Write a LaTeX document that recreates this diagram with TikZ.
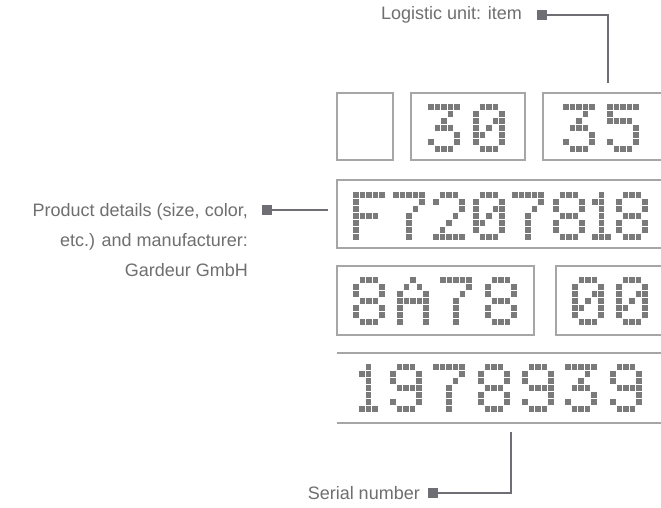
\documentclass[tikz,border=0pt]{standalone}
\usepackage{fontspec}
\setmainfont{Liberation Sans}
\definecolor{framegray}{HTML}{A6A6A6}
\definecolor{dotgray}{HTML}{7A7A7A}
\definecolor{leadgray}{HTML}{6E6E74}
\definecolor{labelgray}{HTML}{6F6F6F}

% dot-matrix geometry
\newcommand\pdx{6.6}
\newcommand\pdy{7.0}
\newcommand\pdw{5.6}
\newcommand\pdh{5.8}

% 5x7 glyphs: one list of lit columns per row, top to bottom
\def\gZero{{1,2,3},{0,4},{0,3,4},{0,2,4},{0,1,4},{0,4},{1,2,3}}
\def\gOne{{1},{0,1},{1},{1},{1},{1},{0,1,2}}
\def\gTwo{{1,2,3},{0,4},{4},{3},{2},{1},{0,1,2,3,4}}
\def\gThree{{0,1,2,3,4},{3},{2},{1,2,3},{4},{0,4},{1,2,3}}
\def\gFive{{0,1,2,3,4},{0},{0,1,2,3},{4},{4},{0,4},{1,2,3}}
\def\gSeven{{0,1,2,3,4},{4},{3},{2},{2},{2},{2}}
\def\gEight{{1,2,3},{0,4},{0,4},{1,2,3},{0,4},{0,4},{1,2,3}}
\def\gNine{{1,2,3},{0,4},{0,4},{1,2,3,4},{4},{0,4},{1,2,3}}
\def\gA{{2},{1,3},{0,4},{0,1,2,3,4},{0,4},{0,4},{0,4}}
\def\gF{{0,1,2,3,4},{0},{0},{0,1,2,3},{0},{0},{0}}

% \dmtext{top}{x/glyph, x/glyph, ...}
\newcommand\dmtext[2]{%
  \foreach \gx/\gl in {#2} {%
    \edef\curglyph{\gl}%
    \foreach \rw [count=\ri from 0] in \curglyph {%
      \foreach \cl in \rw {%
        \fill[dotgray] ({\gx+\cl*\pdx},{#1+\ri*\pdy}) rectangle ++(\pdw,\pdh);
      }%
    }%
  }%
}

\tikzset{
  frame/.style={draw=framegray, line width=2.6},
  leader/.style={draw=leadgray, line width=2},
  marker/.style={fill=leadgray, inner sep=0pt, minimum size=10, draw=none},
  label/.style={text=labelgray, inner sep=0pt, font=\fontsize{18}{30}\selectfont},
}

\begin{document}
\begin{tikzpicture}[x=1pt, y=-1pt]
\useasboundingbox (0,0) rectangle (661,508);
\fill[white] (0,0) rectangle (661,508);

% field frames
\begin{scope}
\clip (0,0) rectangle (661,508);
\draw[frame] (337,93) rectangle (393,160);
\draw[frame] (411,93) rectangle (525,160);
\draw[frame] (543,93) rectangle (700,160);
\draw[frame] (337,180) rectangle (700,248);
\draw[frame] (337,266) rectangle (534,335);
\draw[frame] (556,266) rectangle (700,335);
\draw[frame] (337,353) -- (700,353);
\draw[frame] (337,423) -- (700,423);
\end{scope}

% dot-matrix contents
\dmtext{104}{428/\gThree, 473/\gZero}
\dmtext{104}{563/\gThree, 607/\gFive}
\dmtext{192}{353/\gF, 393/\gSeven, 433/\gTwo, 473/\gZero, 512/\gSeven, 553/\gEight, 592/\gOne, 616/\gEight}
\dmtext{277}{353/\gEight, 397/\gA, 440/\gSeven, 485/\gEight}
\dmtext{277}{572/\gZero, 616/\gZero}
\dmtext{364}{359/\gOne, 390/\gNine, 433/\gSeven, 478/\gEight, 522/\gNine, 565/\gThree, 610/\gNine}

% labels with leader lines
\node[marker] (mLog) at (542,15) {};
\node[label, anchor=east] (tLog) at (522,15) {Logistic unit: item};
\coordinate (eLog) at (608,83);
\draw[leader] (mLog.east) -| (eLog);

\node[marker] (mProd) at (267,210) {};
\node[label, anchor=north east, align=right] (tProd) at (248,203)
  {Product details (size, color,\\etc.) and manufacturer:\\Gardeur GmbH};
\coordinate (eProd) at (328,210);
\draw[leader] (mProd.east) -- (eProd);

\node[marker] (mSer) at (433,493) {};
\node[label, anchor=east] (tSer) at (420,493) {Serial number};
\coordinate (eSer) at (511,432);
\draw[leader] (mSer.east) -| (eSer);
\end{tikzpicture}
\end{document}
